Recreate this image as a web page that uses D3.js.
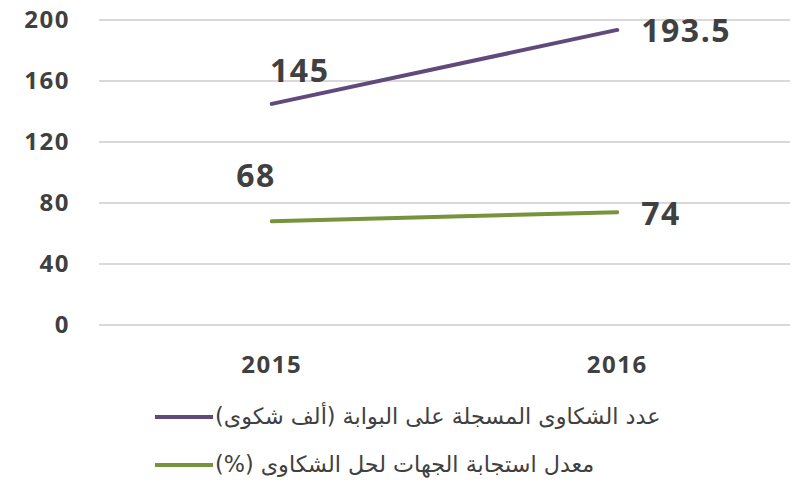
<!DOCTYPE html>
<html lang="ar">
<head>
    <meta charset="UTF-8">
    <title>الشكاوى</title>
    <script src="https://d3js.org/d3.v7.min.js"></script>
    <style>
        body { margin: 0; background: #fff; }
        text { font-family: "Open Sans", "DejaVu Sans", sans-serif; }
    </style>
</head>
<body>
<svg width="792" height="482"></svg>

<script>
    // data
    var years = ['2015', '2016'];
    var complaints = [145, 193.5];   // ألف شكوى
    var responseRate = [68, 74];     // %
    var yTicks = [0, 40, 80, 120, 160, 200];
    var seriesNames = [
        'عدد الشكاوى المسجلة على البوابة (ألف شكوى)',
        'معدل استجابة الجهات لحل الشكاوى (%)'
    ];
    var colors = ['#604a7b', '#77933c'];

    var svg = d3.select('svg'),
        plotLeft = 99, plotRight = 790, plotTop = 20, plotBottom = 325;

    var x = d3.scalePoint().domain(years).range([plotLeft, plotRight]).padding(0.5);
    var y = d3.scaleLinear().domain([0, 200]).range([plotBottom, plotTop]);

    // grid lines
    svg.append('g').selectAll('line')
        .data(yTicks)
        .enter()
        .append('line')
        .attr('x1', plotLeft).attr('x2', plotRight)
        .attr('y1', d => y(d)).attr('y2', d => y(d))
        .attr('stroke', '#d9d9d9')
        .attr('stroke-width', 2);

    // y axis labels
    svg.append('g').selectAll('text')
        .data(yTicks)
        .enter()
        .append('text')
        .attr('x', 70)
        .attr('y', d => y(d) + 8)
        .attr('text-anchor', 'end')
        .attr('font-size', 24)
        .attr('font-weight', 'bold')
        .attr('letter-spacing', 1.5)
        .attr('fill', '#404040')
        .text(d => d);

    // x axis labels
    svg.append('g').selectAll('text')
        .data(years)
        .enter()
        .append('text')
        .attr('x', d => x(d))
        .attr('y', 373)
        .attr('text-anchor', 'middle')
        .attr('font-size', 24)
        .attr('font-weight', 'bold')
        .attr('letter-spacing', 1.5)
        .attr('fill', '#404040')
        .text(d => d);

    var series = [complaints, responseRate];
    // label placement for each point: [anchor, dx, dy]
    var labelPos = [
        [['middle', 28, -22], ['start', 24, 12]],
        [['end', 4, -34], ['start', 24, 13]]
    ];

    var line = d3.line()
        .x((d, i) => x(years[i]))
        .y(d => y(d));

    series.forEach(function (values, s) {
        svg.append('path')
            .attr('d', line(values))
            .attr('fill', 'none')
            .attr('stroke', colors[s])
            .attr('stroke-width', 4)
            .attr('stroke-linecap', 'round');

        svg.append('g').selectAll('text')
            .data(values)
            .enter()
            .append('text')
            .attr('x', (d, i) => x(years[i]) + labelPos[s][i][1])
            .attr('y', d => y(d))
            .attr('dy', (d, i) => labelPos[s][i][2])
            .attr('text-anchor', (d, i) => labelPos[s][i][0])
            .attr('font-size', 32)
            .attr('font-weight', 'bold')
            .attr('letter-spacing', 1.5)
            .attr('fill', '#404040')
            .text(d => d);
    });

    // legend
    var legend = svg.append('g').selectAll('g')
        .data(seriesNames)
        .enter()
        .append('g')
        .attr('transform', (d, i) => 'translate(0,' + (417 + i * 48) + ')');

    legend.append('line')
        .attr('x1', 155).attr('x2', 213)
        .attr('stroke', (d, i) => colors[i])
        .attr('stroke-width', 4);

    legend.append('text')
        .attr('x', 215)
        .attr('y', 7)
        .attr('direction', 'rtl')
        .attr('text-anchor', 'end')
        .attr('font-size', 22.3)
        .style('font-family', '"DejaVu Sans", sans-serif')
        .attr('fill', '#404040')
        .text(d => d);
</script>
</body>
</html>
